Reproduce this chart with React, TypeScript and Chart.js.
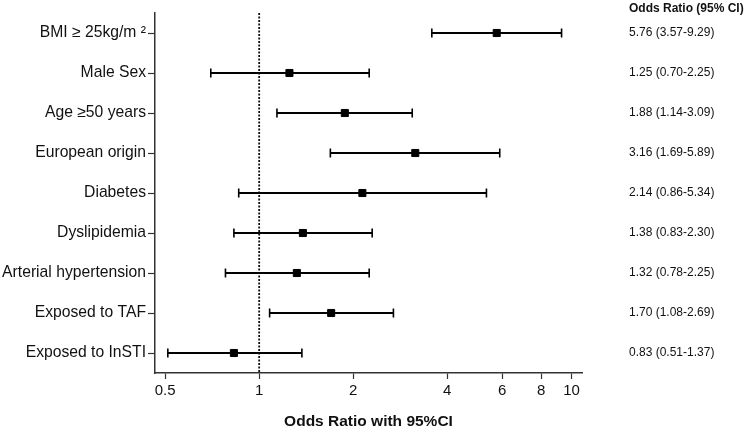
import React, { useEffect, useRef } from "react";
import { Chart, registerables } from "chart.js";

Chart.register(...registerables);

const categories = [
  "BMI ≥ 25kg/m ²",
  "Male Sex",
  "Age ≥50 years",
  "European origin",
  "Diabetes",
  "Dyslipidemia",
  "Arterial hypertension",
  "Exposed to TAF",
  "Exposed to InSTI",
];
const oddsRatio = [5.76, 1.25, 1.88, 3.16, 2.14, 1.38, 1.32, 1.7, 0.83];
const ciLow = [3.57, 0.7, 1.14, 1.69, 0.86, 0.83, 0.78, 1.08, 0.51];
const ciHigh = [9.29, 2.25, 3.09, 5.89, 5.34, 2.3, 2.25, 2.69, 1.37];
const xTicks = [0.5, 1, 2, 4, 6, 8, 10];
const ciLabels = [
  "5.76 (3.57-9.29)",
  "1.25 (0.70-2.25)",
  "1.88 (1.14-3.09)",
  "3.16 (1.69-5.89)",
  "2.14 (0.86-5.34)",
  "1.38 (0.83-2.30)",
  "1.32 (0.78-2.25)",
  "1.70 (1.08-2.69)",
  "0.83 (0.51-1.37)",
];
const tableHeader = "Odds Ratio (95% CI)";
const xTitle = "Odds Ratio with 95%CI";

const FONT = "'Liberation Sans', Arial, sans-serif";

const forestPlugin = {
  id: "forest",
  beforeDatasetsDraw(chart: any) {
    const { ctx, chartArea, scales } = chart;
    const xs = scales.x;
    const ys = scales.y;
    ctx.save();
    // reference line at OR = 1
    const x1 = xs.getPixelForValue(1);
    ctx.strokeStyle = "#111";
    ctx.lineWidth = 1.8;
    ctx.setLineDash([2, 1.5]);
    ctx.beginPath();
    ctx.moveTo(x1, chartArea.top);
    ctx.lineTo(x1, chartArea.bottom);
    ctx.stroke();
    ctx.setLineDash([]);
    // error bars
    ctx.strokeStyle = "#000";
    for (let i = 0; i < categories.length; i++) {
      const y = ys.getPixelForValue(i);
      const a = xs.getPixelForValue(ciLow[i]);
      const b = xs.getPixelForValue(ciHigh[i]);
      ctx.lineWidth = 2;
      ctx.beginPath();
      ctx.moveTo(a, y);
      ctx.lineTo(b, y);
      ctx.stroke();
      ctx.lineWidth = 1.6;
      ctx.beginPath();
      ctx.moveTo(a, y - 4.5);
      ctx.lineTo(a, y + 4.5);
      ctx.moveTo(b, y - 4.5);
      ctx.lineTo(b, y + 4.5);
      ctx.stroke();
    }
    ctx.restore();
  },
  afterDraw(chart: any) {
    const { ctx, scales } = chart;
    const ys = scales.y;
    ctx.save();
    ctx.textAlign = "left";
    ctx.textBaseline = "middle";
    ctx.fillStyle = "#111";
    ctx.font = `bold 12px ${FONT}`;
    ctx.fillText(tableHeader, 629, 9);
    ctx.font = `12px ${FONT}`;
    for (let i = 0; i < ciLabels.length; i++) {
      ctx.fillText(ciLabels[i], 629, ys.getPixelForValue(i));
    }
    ctx.restore();
  },
};

export default function App() {
  const ref = useRef<HTMLCanvasElement | null>(null);
  useEffect(() => {
    if (!ref.current) return;
    const chart = new Chart(ref.current, {
      type: "scatter",
      data: {
        labels: categories,
        datasets: [
          {
            data: categories.map((c, i) => ({ x: oddsRatio[i], y: c })) as any,
            pointStyle: "rect",
            pointRadius: 5,
            pointHoverRadius: 5,
            backgroundColor: "#000",
            borderColor: "#000",
            borderWidth: 1,
          },
        ],
      },
      options: {
        responsive: false,
        animation: false,
        layout: { padding: { left: 0, right: 168, top: 13, bottom: 0 } },
        plugins: {
          legend: { display: false },
          tooltip: { enabled: false },
        },
        scales: {
          x: {
            type: "logarithmic",
            min: 0.464,
            max: 10.8,
            afterBuildTicks: (s: any) => {
              s.ticks = xTicks.map((v) => ({ value: v }));
            },
            afterFit: (s: any) => {
              s.height = 57;
            },
            ticks: {
              autoSkip: false,
              maxRotation: 0,
              padding: 3,
              color: "#111",
              font: { family: FONT, size: 15 },
              callback: (v: any) => String(v),
            },
            grid: {
              drawOnChartArea: false,
              drawTicks: true,
              tickLength: 6,
              tickWidth: 1.2,
              tickColor: "#333",
            },
            border: { display: true, color: "#333", width: 1.5 },
            title: {
              display: true,
              text: xTitle,
              color: "#111",
              font: { family: FONT, size: 15.5, weight: "bold" },
              padding: { top: 0, bottom: -1 },
            },
          },
          y: {
            type: "category",
            labels: categories,
            offset: true,
            afterFit: (s: any) => {
              s.width = 155;
            },
            ticks: {
              autoSkip: false,
              padding: 2,
              color: "#111",
              font: { family: FONT, size: 15.7 },
            },
            grid: {
              offset: false,
              drawOnChartArea: false,
              drawTicks: true,
              tickLength: 7,
              tickWidth: 1.2,
              tickColor: "#333",
            },
            border: { display: true, color: "#333", width: 1.5 },
          },
        },
      } as any,
      plugins: [forestPlugin],
    });
    return () => chart.destroy();
  }, []);
  return (
    <div style={{ position: "absolute", left: 0, top: 0, width: 750, height: 430, background: "#fff" }}>
      <canvas ref={ref} width={750} height={430} style={{ width: 750, height: 430 }} />
    </div>
  );
}
